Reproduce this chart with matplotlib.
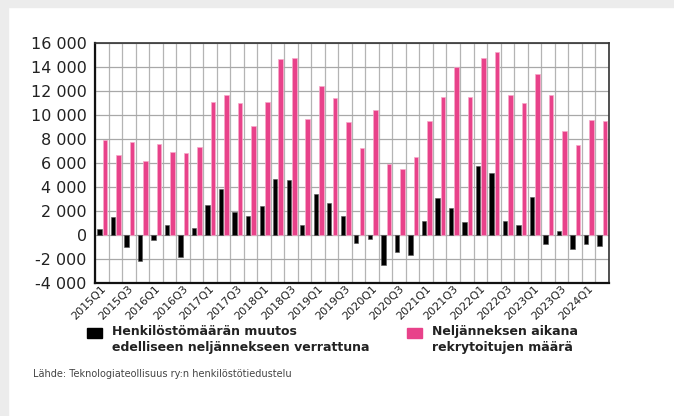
import matplotlib
matplotlib.use("Agg")
import matplotlib.pyplot as plt
from matplotlib.patches import Rectangle
from matplotlib.ticker import FuncFormatter
import numpy as np

# quarters 2015Q1 .. 2024Q2
quarters = [f"{y}Q{q}" for y in range(2015, 2025) for q in range(1, 5)][:38]

# change in headcount compared with previous quarter
muutos = [500, 1480, -1030, -2200, -420, 780, -1870, 590,
          2490, 3850, 1930, 1560, 2400, 4640, 4610, 780,
          3440, 2650, 1560, -720, -360, -2500, -1420, -1670,
          1170, 3060, 2200, 1090, 5760, 5150, 1170, 840,
          3150, -750, 360, -1200, -780, -970]

# recruited during the quarter
rekry = [7900, 6700, 7740, 6200, 7570, 6900, 6840, 7350,
         11060, 11680, 10980, 9050, 11060, 14690, 14780, 9660,
         12440, 11460, 9410, 7290, 10440, 5930, 5510, 6520,
         9520, 11530, 14000, 11530, 14810, 15310, 11720, 11030,
         13450, 11720, 8710, 7520, 9630, 9520]

legend_labels = ["Henkilöstömäärän muutos\nedelliseen neljännekseen verrattuna",
                 "Neljänneksen aikana\nrekrytoitujen määrä"]
source = "Lähde: Teknologiateollisuus ry:n henkilöstötiedustelu"

black = "#000000"
pink = "#e8428a"
txt = "#222222"

W, H = 674, 416
fig = plt.figure(figsize=(W / 100, H / 100), dpi=100)

# light gray frame strips
fig.add_artist(Rectangle((0, 0), 8 / W, 1, transform=fig.transFigure,
                         color="#ececec", zorder=0))
fig.add_artist(Rectangle((0, 1 - 7 / H), 1, 7 / H, transform=fig.transFigure,
                         color="#ececec", zorder=0))

ax = fig.add_axes([95 / W, (H - 282.7) / H, (608.7 - 95) / W, (282.7 - 43.3) / H])

n = len(quarters)
x = np.arange(n)
ax.bar(x + 0.33, muutos, width=0.32, color=black, edgecolor="#555555",
       linewidth=0.4, zorder=3)
ax.bar(x + 0.74, rekry, width=0.34, color=pink, edgecolor="#f6a9c9",
       linewidth=0.5, zorder=3)

ax.set_xlim(0, n)
ax.set_ylim(-4000, 16000)
ax.set_yticks(np.arange(-4000, 16001, 2000))
ax.yaxis.set_major_formatter(FuncFormatter(
    lambda v, p: f"{int(v):,}".replace(",", " ")))
ax.tick_params(axis="y", length=0, pad=6, labelsize=11.5, labelcolor=txt)

# grid at every quarter boundary, labels every second quarter
ax.set_xticks(np.arange(0, n + 1), minor=True)
ax.set_xticks(x[::2] + 0.72)
ax.set_xticklabels(quarters[::2], rotation=45, rotation_mode="anchor",
                   ha="right", va="center",
                   family=["Liberation Sans Narrow", "DejaVu Sans"],
                   fontsize=8, color=txt)
ax.tick_params(axis="x", which="both", length=0, pad=3)
ax.grid(axis="x", which="minor", color="#b4b4b4", linewidth=0.9, zorder=0)
ax.grid(axis="y", which="major", color="#a8a8a8", linewidth=0.9, zorder=0)
ax.set_axisbelow(True)

for s in ["left", "bottom"]:
    ax.spines[s].set_linewidth(1.6)
    ax.spines[s].set_color("#111111")
for s in ["top", "right"]:
    ax.spines[s].set_linewidth(1.2)
    ax.spines[s].set_color("#333333")

# legend
fig.add_artist(Rectangle((87 / W, 1 - 338 / H), 15 / W, 10 / H,
                         transform=fig.transFigure, color=black))
fig.add_artist(Rectangle((407 / W, 1 - 338 / H), 15 / W, 10 / H,
                         transform=fig.transFigure, color=pink))
fig.text(112 / W, 1 - 325 / H, legend_labels[0], ha="left", va="top",
         fontsize=9, fontweight="bold", color=txt, linespacing=1.35)
fig.text(432 / W, 1 - 325 / H, legend_labels[1], ha="left", va="top",
         fontsize=9, fontweight="bold", color=txt, linespacing=1.35)

fig.text(33 / W, 1 - 374 / H, source, ha="left", va="center",
         fontsize=7, color="#444444")

fig.savefig("out.png", dpi=100)
